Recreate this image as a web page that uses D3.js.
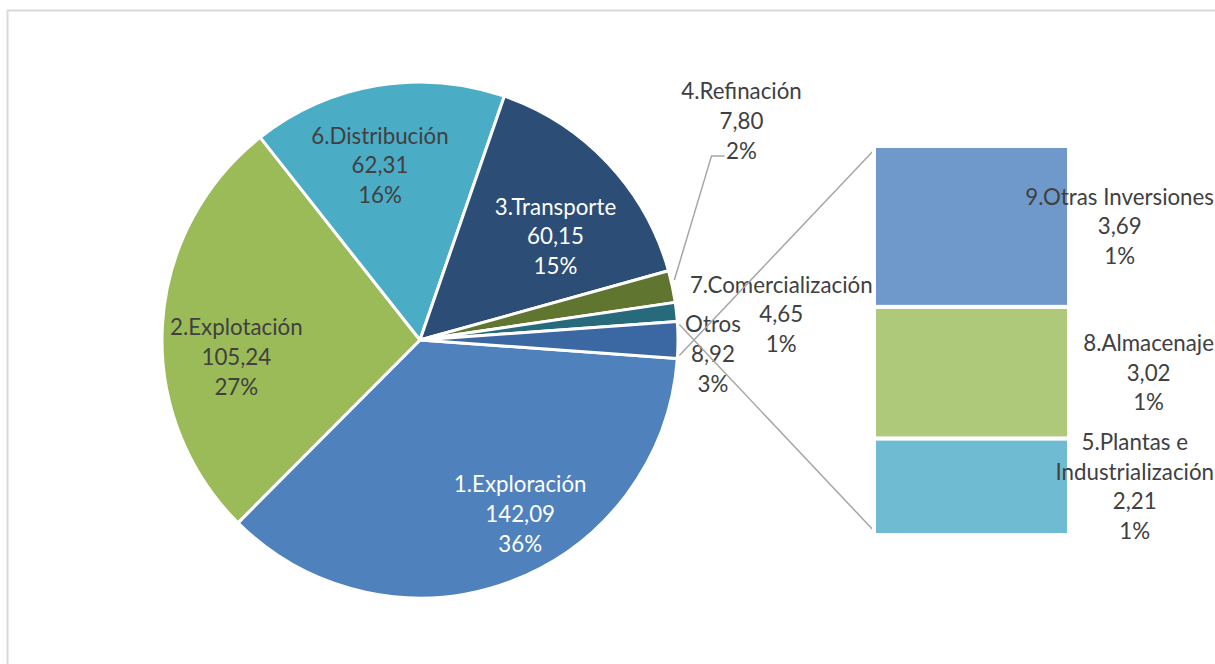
<!DOCTYPE html>
<html>
<head>
<meta charset="utf-8">
<script src="https://cdn.jsdelivr.net/npm/d3@7/dist/d3.min.js"></script>
<style>
body { margin: 0; background: #fff; overflow: hidden; }
text { font-family: Lato, "Open Sans", sans-serif; font-size: 22.3px; fill: #404040; }
</style>
</head>
<body>
<script>
// pie data (order as in the source sheet)
var categories = ["1.Exploración", "2.Explotación", "6.Distribución", "3.Transporte", "4.Refinación", "7.Comercialización", "Otros"];
var values = [142.09, 105.24, 62.31, 60.15, 7.80, 4.65, 8.92];
var percents = ["36%", "27%", "16%", "15%", "2%", "1%", "3%"];
var colors = ["#4f81bd", "#9bbb59", "#4bacc6", "#2c4d75", "#5f7530", "#276a7c", "#3b67a2"];

// second plot (breakdown of "Otros")
var barCategories = ["9.Otras Inversiones", "8.Almacenaje", "5.Plantas e\nIndustrialización"];
var barValues = [3.69, 3.02, 2.21];
var barPercents = ["1%", "1%", "1%"];
var barColors = ["#7099cb", "#afc97a", "#6fbbd1"];

var width = 1215, height = 664;
var cx = 420, cy = 340, R = 258;
var lh = 29.7;

var fmt = d3.formatLocale({decimal: ",", thousands: ".", grouping: [3], currency: ["", ""]}).format(".2f");

var svg = d3.select("body").append("svg").attr("width", width).attr("height", height);

// chart frame
svg.append("rect").attr("x", 7.5).attr("y", 10.5).attr("width", 1300).attr("height", 800)
    .attr("fill", "none").attr("stroke", "#d9d9d9").attr("stroke-width", 2);

var total = d3.sum(values);
var otrosAngle = values[values.length - 1] / total * 2 * Math.PI;
var start = Math.PI / 2 + otrosAngle / 2;

var pie = d3.pie().sort(null).value(function(d){ return d; })
    .startAngle(start).endAngle(start + 2 * Math.PI);
var arcs = pie(values);

var arc = d3.arc().innerRadius(0).outerRadius(R);
var labelArc = d3.arc().innerRadius(186).outerRadius(186);
var outerArc = d3.arc().innerRadius(R + 40).outerRadius(R + 40);

var g = svg.append("g").attr("transform", "translate(" + cx + "," + cy + ")");

g.selectAll("path.slice")
    .data(arcs)
    .enter().append("path")
        .attr("class", "slice")
        .attr("d", arc)
        .attr("fill", function(d, i){ return colors[i]; })
        .attr("stroke", "#fff")
        .attr("stroke-width", 3)
        .attr("stroke-linejoin", "round");

// label placement: inside for the big slices, outside for the small ones
var outside = [false, false, false, false, true, true, true];
var nudge = [[35, 0], [2, 28], [-9, 9], [0, 24], [30, -157], [65, 7], [-5, 14]];
var labelColor = ["#fff", "#404040", "#404040", "#fff", "#404040", "#404040", "#404040"];

var labelPos = arcs.map(function(d, i){
    var c = outside[i] ? outerArc.centroid(d) : labelArc.centroid(d);
    return [c[0] + nudge[i][0], c[1] + nudge[i][1]];
});

// leader line for 4.Refinación
(function(){
    var i = 4, d = arcs[i];
    var a = (d.startAngle + d.endAngle) / 2;
    var p0 = [Math.sin(a) * (R + 2), -Math.cos(a) * (R + 2) - 6];
    var p = labelPos[i];
    var y = p[1] + lh + 5;
    g.append("polyline")
        .attr("points", [p0, [p[0] - 30, y], [p[0] - 17, y]].map(function(q){ return q.join(","); }).join(" "))
        .attr("fill", "none").attr("stroke", "#a6a6a6").attr("stroke-width", 1.5);
})();

// connector lines pie -> bar
var barX = 874, barW = 195;
var y = d3.scaleLinear().domain([0, d3.sum(barValues)]).range([146, 535]);

var oa = arcs[arcs.length - 1];
var ptTop = [cx + Math.sin(oa.endAngle) * R + 2, cy - Math.cos(oa.endAngle) * R - 3];
var ptBot = [cx + Math.sin(oa.startAngle) * R + 2, cy - Math.cos(oa.startAngle) * R + 3];
svg.append("line").attr("x1", ptTop[0]).attr("y1", ptTop[1]).attr("x2", barX + 2).attr("y2", y(0) + 2)
    .attr("stroke", "#a6a6a6").attr("stroke-width", 1.5);
svg.append("line").attr("x1", ptBot[0]).attr("y1", ptBot[1]).attr("x2", barX + 2).attr("y2", y.range()[1] - 2)
    .attr("stroke", "#a6a6a6").attr("stroke-width", 1.5);

function drawLabel(sel, x, cyy, lines, color){
    var t = sel.append("text").attr("text-anchor", "middle").style("fill", color);
    var n = lines.length;
    lines.forEach(function(s, k){
        t.append("tspan").attr("x", x).attr("y", cyy + (k - (n - 1) / 2) * lh).attr("dy", "0.35em").text(s);
    });
    return t;
}

arcs.forEach(function(d, i){
    var lines = categories[i].split("\n").concat([fmt(values[i]), percents[i]]);
    drawLabel(g, labelPos[i][0], labelPos[i][1], lines, labelColor[i]);
});

// stacked bar
var acc = 0;
var stack = barValues.map(function(v){ var s = acc; acc += v; return [s, acc]; });

svg.selectAll("rect.bar")
    .data(stack)
    .enter().append("rect")
        .attr("class", "bar")
        .attr("x", barX)
        .attr("width", barW)
        .attr("y", function(d){ return y(d[0]); })
        .attr("height", function(d){ return y(d[1]) - y(d[0]); })
        .attr("fill", function(d, i){ return barColors[i]; })
        .attr("stroke", "#fff")
        .attr("stroke-width", 4);

// bar labels, block pushed against the right edge of the chart area
var rightEdge = 1214;
stack.forEach(function(d, i){
    var lines = barCategories[i].split("\n").concat([fmt(barValues[i]), barPercents[i]]);
    var mid = (y(d[0]) + y(d[1])) / 2;
    var t = drawLabel(svg, 0, mid, lines, "#404040");
    var w = 0;
    t.selectAll("tspan").each(function(){ w = Math.max(w, this.getComputedTextLength()); });
    t.selectAll("tspan").attr("x", rightEdge - w / 2);
});
</script>
</body>
</html>
